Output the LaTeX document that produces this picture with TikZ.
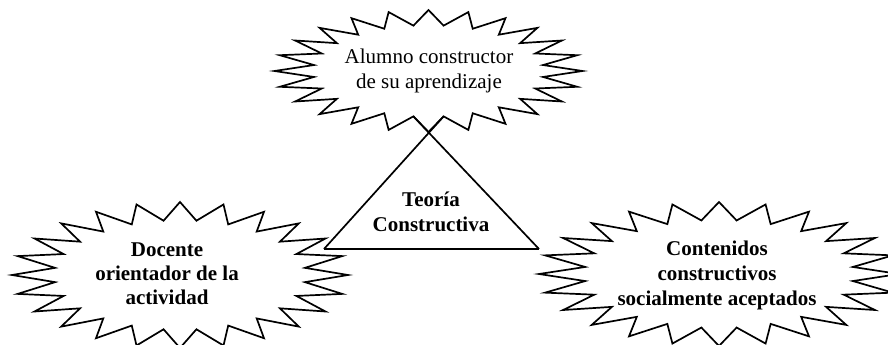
\documentclass[tikz,border=0pt]{standalone}
\usepackage{fontspec}
\setmainfont{Liberation Serif}

\begin{document}
\begin{tikzpicture}[x=1pt,y=-1pt]
\useasboundingbox (0,0) rectangle (888,345);
\begin{scope}
	\tikzstyle{every node}=[align=center, inner sep=0pt, font=\fontsize{21}{25}\selectfont]
	\tikzstyle{seal}=[draw, fill=white, line width=1.7pt, line join=miter]

	% the three bursts (24 points on an ellipse)
	\foreach \cx/\cy/\rx/\ry in {428.5/71/154/61, 180/275/168/73, 719/274/180/72}
		\draw[seal] plot[samples at={0,...,47}]
			({\cx+\rx*(1-0.25*mod(\x,2))*cos(\x*7.5)}, {\cy-\ry*(1-0.25*mod(\x,2))*sin(\x*7.5)}) -- cycle;

	\node (alumno) at (429,71) {Alumno constructor\\de su aprendizaje};
	\node[font=\fontsize{21}{24}\selectfont\bfseries] (docente) at (167,274) {Docente\\orientador de la\\actividad};
	\node[font=\fontsize{21}{25}\selectfont\bfseries] (contenidos) at (717,275) {Contenidos\\constructivos\\socialmente aceptados};
	\node[font=\fontsize{21}{25}\selectfont\bfseries] (teoria) at (431,212) {Teoría\\Constructiva};

	% triangle
	\coordinate (bl) at (324,249);
	\coordinate (br) at (539,249);
	\coordinate (tl) at (413.4,116.4);
	\coordinate (tr) at (443.6,116.4);
	\draw[line width=1.7pt] (bl) -- (br);
	\draw[line width=1.7pt] (bl) -- (tr);
	\draw[line width=1.7pt] (br) -- (tl);
\end{scope}
\end{tikzpicture}
\end{document}
